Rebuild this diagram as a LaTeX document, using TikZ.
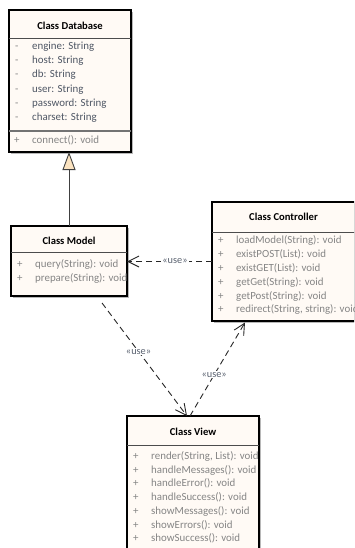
\documentclass[tikz,border=0pt]{standalone}
\usepackage{fontspec}
\setmainfont{Carlito}
\usetikzlibrary{arrows.meta,calc}

\definecolor{boxfill}{HTML}{FFFAF5}
\definecolor{attrtext}{HTML}{4E5664}
\definecolor{optext}{HTML}{858585}
\definecolor{usetext}{HTML}{5A6270}
\definecolor{trifill}{HTML}{FBE3C0}
\definecolor{shadowc}{HTML}{B8B8B8}

\tikzset{
  classbox/.style={draw=black, line width=1.1pt, fill=boxfill, anchor=north west,
    inner sep=0pt, outer sep=0pt},
  classtitle/.style={font=\bfseries\fontsize{10.6}{12}\selectfont, text=black, inner sep=0pt},
  member/.style={font=\fontsize{10.9}{12}\selectfont, anchor=west, inner sep=0pt,
    text height=7.6pt, text depth=2.3pt},
  attr/.style={member, text=attrtext},
  oper/.style={member, text=optext},
  vis/.style={member, text=optext},
  sepline/.style={draw=black!70, line width=0.9pt},
  opsep/.style={draw=black!55, line width=1.6pt},
  usedep/.style={draw=black!85, line width=0.9pt, dash pattern=on 6pt off 4pt,
    -{Straight Barb[length=11pt,width=11pt,line width=0.9pt]}},
  uselabel/.style={font=\fontsize{10.3}{11}\selectfont, text=usetext, fill=white,
    inner sep=1pt},
  generalize/.style={draw=black!75, line width=1pt,
    -{Triangle[open, length=18pt, width=13pt, fill=trifill, line width=0.9pt]}}
}

\newcommand{\shadowof}[1]{%
  \fill[shadowc] ([shift={(1.6pt,-1.6pt)}]#1.north east) rectangle ([shift={(1.6pt,-1.6pt)}]#1.south west);}

\begin{document}
\begin{tikzpicture}[x=1pt,y=-1pt]
\useasboundingbox (0,0) rectangle (354,548);
\clip (0,0) rectangle (354,548);
\fill[white] (0,0) rectangle (354,548);

% ---------- class boxes ----------
\path (9,10) node[classbox, minimum width=122pt, minimum height=142pt, draw=none, fill=none] (db) {};
\path (11,226) node[classbox, minimum width=116pt, minimum height=70pt, draw=none, fill=none] (model) {};
\path (212,202) node[classbox, minimum width=143pt, minimum height=119pt, draw=none, fill=none] (ctrl) {};
\path (127,416) node[classbox, minimum width=132pt, minimum height=150pt, draw=none, fill=none] (view) {};

\shadowof{db}
\shadowof{model}
\shadowof{ctrl}
\shadowof{view}

\path (9,10) node[classbox, minimum width=122pt, minimum height=142pt] {};
\path (11,226) node[classbox, minimum width=116pt, minimum height=70pt] {};
\path (212,202) node[classbox, minimum width=143pt, minimum height=119pt] {};
\path (127,416) node[classbox, minimum width=132pt, minimum height=150pt] {};

% ---------- Database ----------
\node[classtitle] (dbtitle) at ($(db.north)+(0,15.5)$) {Class Database};
\draw[sepline] (db.west |- 0,38) -- (db.east |- 0,38);
\foreach \y/\t in {47/engine: String, 61/host: String, 75/db: String,
                   90/user: String, 104/password: String, 118/charset: String} {
  \node[vis] at (15,\y) {-};
  \node[attr] at (32,\y) {\t};
}
\draw[opsep] (db.west |- 0,131) -- (db.east |- 0,131);
\node[vis] at (14,141) {+};
\node[oper] at (32,141) {connect(): void};

% ---------- Model ----------
\node[classtitle] (modeltitle) at ($(model.north)+(0,14.5)$) {Class Model};
\draw[sepline] (model.west |- 0,252) -- (model.east |- 0,252);
\begin{scope}
  \clip (model.north west) rectangle (model.south east);
  \foreach \y/\t in {265/query(String): void, 279/prepare(String): void} {
    \node[vis] at (17,\y) {+};
    \node[oper] at (35,\y) {\t};
  }
\end{scope}

% ---------- Controller ----------
\node[classtitle] (ctrltitle) at ($(ctrl.north)+(0,15)$) {Class Controller};
\draw[sepline] (ctrl.west |- 0,232) -- (ctrl.east |- 0,232);
\begin{scope}
  \clip (ctrl.north west) rectangle (ctrl.south east);
  \foreach \y/\t in {241/loadModel(String): void, 255/existPOST(List): void,
                     269/existGET(List): void, 283/getGet(String): void,
                     297/getPost(String): void, 310/{redirect(String, string): void}} {
    \node[vis] at (218,\y) {+};
    \node[oper] at (236,\y) {\t};
  }
\end{scope}

% ---------- View ----------
\node[classtitle] (viewtitle) at ($(view.north)+(0,16)$) {Class View};
\draw[sepline] (view.west |- 0,445) -- (view.east |- 0,445);
\begin{scope}
  \clip (view.north west) rectangle (view.south east);
  \foreach \y/\t in {457/{render(String, List): void}, 471/handleMessages(): void,
                     484/handleError(): void, 498/handleSuccess(): void,
                     512/showMessages(): void, 526/showErrors(): void,
                     539/showSuccess(): void} {
    \node[vis] at (133,\y) {+};
    \node[oper] at (151,\y) {\t};
  }
\end{scope}

% ---------- relations ----------
\draw[generalize] (model.north) -- (model.north |- db.south);

\draw[usedep] (ctrl.west) -- (model.east |- ctrl.west)
  node[uselabel, pos=0.435] {«use»};

\draw[usedep] ([xshift=-25pt,yshift=-7pt]model.south east) -- ([xshift=-6pt]view.north)
  node[uselabel, pos=0.43] {«use»};

\draw[usedep] ([xshift=-3pt]view.north) -- ([xshift=33pt,yshift=-1.5pt]ctrl.south west)
  node[uselabel, pos=0.44] {«use»};

\end{tikzpicture}
\end{document}
